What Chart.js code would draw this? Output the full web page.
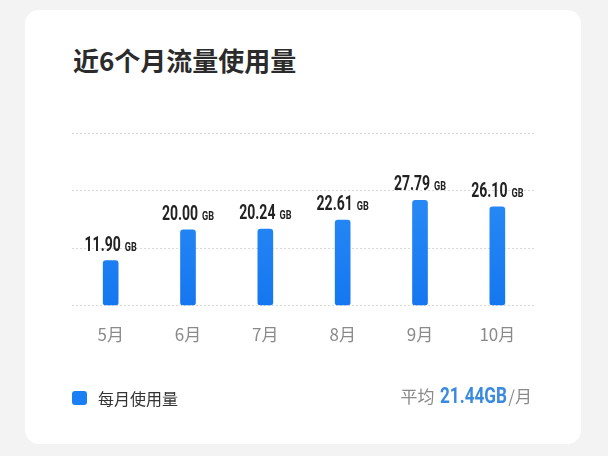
<!DOCTYPE html>
<html>
<head>
<meta charset="utf-8">
<script src="https://cdn.jsdelivr.net/npm/chart.js@4.4.1/dist/chart.umd.min.js"></script>
<style>
  html, body { margin: 0; padding: 0; }
  body { width: 608px; height: 456px; background: #f3f3f3; position: relative; overflow: hidden;
         font-family: "Noto Sans CJK SC", "Noto Sans", sans-serif; }
  .card { position: absolute; left: 25px; top: 10px; width: 556px; height: 434px; background: #fff; border-radius: 14px; }
  .title { position: absolute; left: 73px; top: 45px; font-size: 26px; line-height: 30px; font-weight: bold; color: #2b2b2b; }
  .wrap { position: absolute; left: 0; top: 0; width: 608px; height: 456px; }
  .legend { position: absolute; left: 72px; top: 386px; height: 24px; display: flex; align-items: center; font-size: 16px; color: #333; }
  .legend i { display: inline-block; width: 15px; height: 14px; border-radius: 3px; background: #1a7ef5; margin-right: 11px; }
  .avg { position: absolute; right: 76px; top: 383px; height: 28px; display: flex; align-items: baseline; font-size: 17px; color: #8a8a8a; }
  .avg b { display: inline-block; font-family: Roboto, sans-serif; font-size: 22px; color: #3a8be0; margin-left: 6px;
           transform: scaleX(0.78); transform-origin: left center; margin-right: -18px; }
</style>
</head>
<body>
<div class="card"></div>
<div class="title">近6个月流量使用量</div>
<div class="wrap"><canvas id="flow"></canvas></div>
<div class="legend"><i></i><span>每月使用量</span></div>
<div class="avg"><span>平均</span><b id="avgVal"></b><span>/月</span></div>
<script>
// data
const months = ["5月", "6月", "7月", "8月", "9月", "10月"];
const usageGB = [11.90, 20.00, 20.24, 22.61, 27.79, 26.10];
const yMax = 45.6;

const avg = usageGB.reduce((a, b) => a + b, 0) / usageGB.length;
document.getElementById("avgVal").textContent = avg.toFixed(2) + "GB";

// condensed look: squeeze Roboto horizontally
const squeeze = 0.7;

const valueLabels = {
    id: "valueLabels",
    afterDatasetsDraw(chart) {
        const ctx = chart.ctx;
        const meta = chart.getDatasetMeta(0);
        ctx.save();
        ctx.fillStyle = "#222";
        ctx.textBaseline = "alphabetic";
        ctx.textAlign = "left";
        meta.data.forEach((bar, i) => {
            const num = usageGB[i].toFixed(2);
            ctx.font = "bold 20px Roboto, sans-serif";
            const w1 = ctx.measureText(num).width * squeeze;
            ctx.font = "bold 13px Roboto, sans-serif";
            const w2 = ctx.measureText("GB").width * squeeze;
            const gap = 4;
            const start = bar.x - (w1 + gap + w2) / 2;
            const base = bar.y - 10;
            ctx.save();
            ctx.translate(start, base);
            ctx.scale(squeeze, 1);
            ctx.font = "bold 20px Roboto, sans-serif";
            ctx.fillText(num, 0, 0);
            ctx.font = "bold 13px Roboto, sans-serif";
            ctx.fillText("GB", (w1 + gap) / squeeze, 0);
            ctx.restore();
        });
        ctx.restore();
    },
};

const data = {
    labels: months,
    datasets: [
        {
            label: "每月使用量",
            data: usageGB,
            backgroundColor: (c) => {
                const area = c.chart.chartArea;
                if (!area) return "#1f7df2";
                const g = c.chart.ctx.createLinearGradient(0, area.top, 0, area.bottom);
                g.addColorStop(0, "#3394f8");
                g.addColorStop(1, "#1577f0");
                return g;
            },
            barThickness: 15,
            borderRadius: 3,
            borderSkipped: false,
        },
    ],
};

const config = {
    type: "bar",
    data,
    plugins: [valueLabels],
    options: {
        responsive: true,
        maintainAspectRatio: false,
        animation: false,
        layout: { padding: { left: 72, right: 72, top: 133, bottom: 92 } },
        plugins: { legend: { display: false }, tooltip: { enabled: false } },
        scales: {
            x: {
                grid: { display: false, drawTicks: false },
                border: { display: false },
                ticks: {
                    color: "#8a8a8a",
                    padding: 19,
                    font: { family: '"Noto Sans CJK SC", "Noto Sans", sans-serif', size: 17 },
                },
            },
            y: {
                min: 0,
                max: yMax,
                ticks: { display: false, count: 4 },
                grid: { color: "#d8d8d8", lineWidth: 1, drawTicks: false },
                border: { display: false, dash: [2, 2] },
            },
        },
    },
};

const chartFlow = document.getElementById("flow");
const myChartFlow = new Chart(chartFlow, config);
</script>
</body>
</html>
